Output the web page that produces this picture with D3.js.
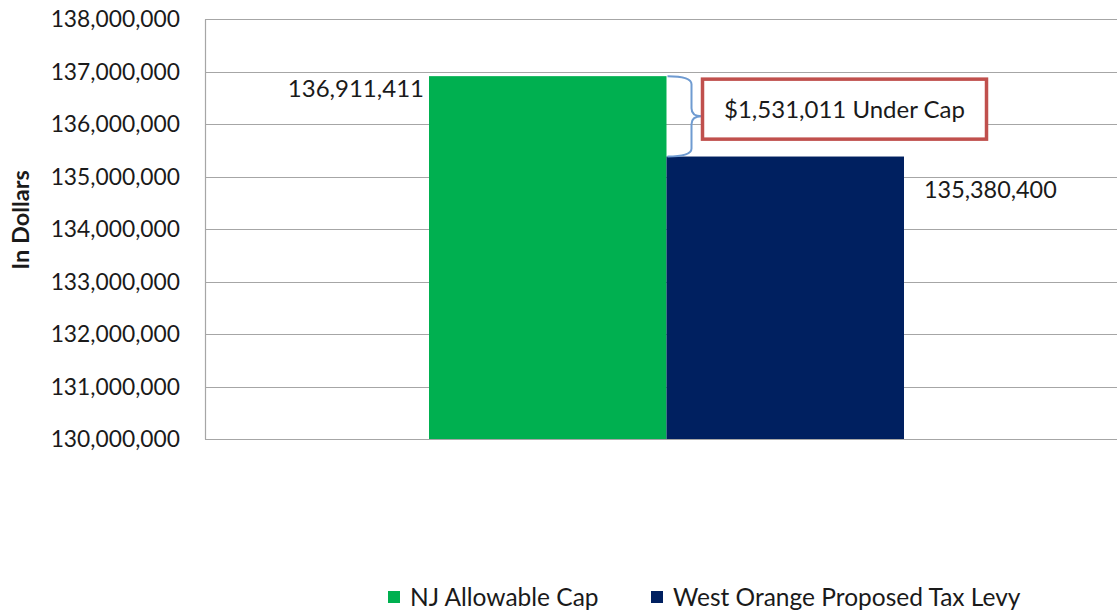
<!DOCTYPE html>
<html>
<head>
<meta charset="utf-8">
<script src="https://cdn.jsdelivr.net/npm/d3@7"></script>
<style>
  body { margin: 0; background: #fff; }
  svg text { font-family: Lato, "Open Sans", sans-serif; fill: #1a1a1a; }
</style>
</head>
<body>
<div id="chart"></div>
<script>
// --- data ---
const seriesNames = ['NJ Allowable Cap', 'West Orange Proposed Tax Levy'];
const seriesValues = [136911411, 135380400];
const seriesColors = ['#00b050', '#002060'];
const yTicks = [130000000, 131000000, 132000000, 133000000, 134000000, 135000000, 136000000, 137000000, 138000000];
const calloutText = '$1,531,011 Under Cap';

const W = 1117, H = 612;
const margin = { top: 19, right: 0, bottom: 173, left: 205 };
const width = W - margin.left - margin.right;
const height = H - margin.top - margin.bottom;

const svg = d3.select('#chart').append('svg')
  .attr('width', W).attr('height', H);

const g = svg.append('g')
  .attr('transform', `translate(${margin.left},${margin.top})`);

const y = d3.scaleLinear().domain([130000000, 138000000]).range([height, 0]);
const x = d3.scaleBand().domain(seriesNames).range([224, 699]).padding(0);

const fmt = d3.format(',');

// gridlines
g.append('g')
  .selectAll('line')
  .data(yTicks)
  .join('line')
  .attr('x1', 0).attr('x2', width)
  .attr('y1', d => Math.round(y(d)) + 0.5).attr('y2', d => Math.round(y(d)) + 0.5)
  .attr('stroke', '#a6a6a6').attr('stroke-width', 1.2);

// y axis
const yAxis = g.append('g')
  .call(d3.axisLeft(y).tickValues(yTicks).tickFormat(fmt).tickSize(0).tickPadding(25));
yAxis.select('.domain').attr('stroke', '#a6a6a6').attr('stroke-width', 1.2);
yAxis.selectAll('text').attr('font-size', '22.8px').attr('dy', '0.35em');

// axis title
svg.append('text')
  .attr('transform', `translate(29,${margin.top + height / 2 - 9}) rotate(-90)`)
  .attr('text-anchor', 'middle')
  .attr('font-size', '23.5px').attr('font-weight', 'bold')
  .text('In Dollars');

// bars
g.selectAll('.bar')
  .data(seriesValues)
  .join('rect')
  .attr('class', 'bar')
  .attr('x', (d, i) => x(seriesNames[i]))
  .attr('width', x.bandwidth())
  .attr('y', d => y(d))
  .attr('height', d => height - y(d))
  .attr('fill', (d, i) => seriesColors[i]);

// value labels
g.append('text')
  .attr('x', x(seriesNames[0]) - 5)
  .attr('y', y(seriesValues[0]) + 21)
  .attr('text-anchor', 'end')
  .attr('font-size', '24px')
  .text(fmt(seriesValues[0]));

g.append('text')
  .attr('x', x(seriesNames[1]) + x.bandwidth() + 20)
  .attr('y', y(seriesValues[1]) + 41)
  .attr('text-anchor', 'start')
  .attr('font-size', '23.4px')
  .text(fmt(seriesValues[1]));

// brace between the two bar tops
const bx = x(seriesNames[1]) + 1;
const yTop = y(seriesValues[0]);
const yBot = y(seriesValues[1]);
const yMid = (yTop + yBot) / 2;
const bw = 24, tipW = 10, r = 8;
const brace = d3.path();
brace.moveTo(bx, yTop);
brace.quadraticCurveTo(bx + bw, yTop, bx + bw, yTop + r);
brace.lineTo(bx + bw, yMid - r);
brace.quadraticCurveTo(bx + bw, yMid, bx + bw + tipW, yMid);
brace.quadraticCurveTo(bx + bw, yMid, bx + bw, yMid + r);
brace.lineTo(bx + bw, yBot - r);
brace.quadraticCurveTo(bx + bw, yBot, bx, yBot);
g.append('path')
  .attr('d', brace.toString())
  .attr('fill', 'none')
  .attr('stroke', '#6f9bd1')
  .attr('stroke-width', 2);

// callout box
const boxX = bx + bw + tipW + 1, boxY = yTop + 3, boxW = 284, boxH = 60;
g.append('rect')
  .attr('x', boxX).attr('y', boxY)
  .attr('width', boxW).attr('height', boxH)
  .attr('fill', '#fff')
  .attr('stroke', '#c0504d').attr('stroke-width', 3.5);
g.append('text')
  .attr('x', boxX + boxW / 2)
  .attr('y', boxY + boxH / 2)
  .attr('dy', '0.35em')
  .attr('text-anchor', 'middle')
  .attr('font-size', '24px')
  .text(calloutText);

// legend
const legendX = [388, 651];
const legend = svg.append('g');
seriesNames.forEach((name, i) => {
  legend.append('rect')
    .attr('x', legendX[i]).attr('y', 591)
    .attr('width', 12).attr('height', 12)
    .attr('fill', seriesColors[i]);
  legend.append('text')
    .attr('x', legendX[i] + 22).attr('y', 597)
    .attr('dy', '0.35em')
    .attr('font-size', '24.5px')
    .text(name);
});
</script>
</body>
</html>
